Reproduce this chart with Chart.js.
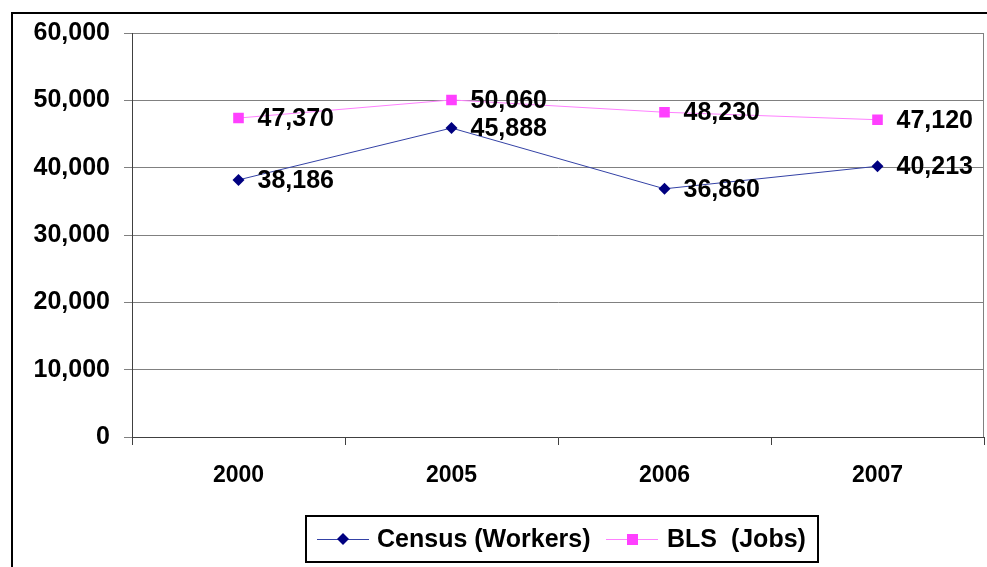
<!DOCTYPE html>
<html lang="en">
<head>
  <meta charset="UTF-8">
  <title>Census Workers vs BLS Jobs</title>
  <script src="https://cdn.jsdelivr.net/npm/chart.js"></script>
  <style>
    body {
      margin: 0;
      background: #fff;
      overflow: hidden;
    }
    .wrap {
      width: 987px;
      height: 567px;
    }
  </style>
</head>
<body>
  <div class="wrap">
    <canvas id="jobsChart" width="987" height="567"></canvas>
  </div>

  <script>
    const categories = ['2000', '2005', '2006', '2007'];
    const censusWorkers = [38186, 45888, 36860, 40213];
    const blsJobs = [47370, 50060, 48230, 47120];
    const yMin = 0;
    const yMax = 60000;
    const yStep = 10000;

    const FONT = "'Liberation Sans', Arial, sans-serif";
    const fmt = v => v.toLocaleString('en-US');

    // outer frame, right plot border, value labels and boxed legend
    const decorations = {
      id: 'decorations',
      beforeDraw(chart) {
        const ctx = chart.ctx;
        ctx.save();
        ctx.fillStyle = '#fff';
        ctx.fillRect(0, 0, chart.width, chart.height);
        ctx.strokeStyle = '#000';
        ctx.lineWidth = 2;
        ctx.strokeRect(12, 13, 2000, 2000);
        ctx.restore();
      },
      beforeDatasetsDraw(chart) {
        const { ctx, chartArea } = chart;
        ctx.save();
        ctx.strokeStyle = '#808080';
        ctx.lineWidth = 1;
        ctx.beginPath();
        ctx.moveTo(chartArea.right - 0.5, chartArea.top);
        ctx.lineTo(chartArea.right - 0.5, chartArea.bottom);
        ctx.stroke();
        ctx.restore();
      },
      afterDatasetsDraw(chart) {
        const ctx = chart.ctx;
        ctx.save();
        ctx.font = 'bold 25px ' + FONT;
        ctx.fillStyle = '#000';
        ctx.textAlign = 'left';
        ctx.textBaseline = 'middle';
        chart.data.datasets.forEach((ds, i) => {
          chart.getDatasetMeta(i).data.forEach((pt, j) => {
            ctx.fillText(fmt(ds.data[j]), pt.x + 19, pt.y + 1);
          });
        });
        ctx.restore();
      },
      afterDraw(chart) {
        const ctx = chart.ctx;
        const box = { x: 306, y: 516, w: 512, h: 46 };
        ctx.save();
        ctx.fillStyle = '#fff';
        ctx.fillRect(box.x, box.y, box.w, box.h);
        ctx.strokeStyle = '#000';
        ctx.lineWidth = 2;
        ctx.strokeRect(box.x, box.y, box.w, box.h);

        const cy = box.y + box.h / 2;
        const items = [
          { x: 317, textX: 377 },
          { x: 606, textX: 667 }
        ];
        ctx.font = 'bold 25px ' + FONT;
        ctx.textBaseline = 'middle';
        chart.data.datasets.forEach((ds, i) => {
          const it = items[i];
          ctx.strokeStyle = ds.borderColor;
          ctx.lineWidth = 1;
          ctx.beginPath();
          ctx.moveTo(it.x, cy + 0.5);
          ctx.lineTo(it.x + 52, cy + 0.5);
          ctx.stroke();
          ctx.fillStyle = ds.pointBackgroundColor;
          const mx = it.x + 26;
          if (ds.pointStyle === 'rectRot') {
            ctx.beginPath();
            ctx.moveTo(mx, cy - 6);
            ctx.lineTo(mx + 6, cy);
            ctx.lineTo(mx, cy + 6);
            ctx.lineTo(mx - 6, cy);
            ctx.closePath();
            ctx.fill();
          } else {
            ctx.fillRect(mx - 5, cy - 5, 11, 11);
          }
          ctx.fillStyle = '#000';
          ctx.fillText(ds.label, it.textX, cy + 1);
        });
        ctx.restore();
      }
    };

    new Chart(document.getElementById('jobsChart'), {
      type: 'line',
      data: {
        labels: categories,
        datasets: [
          {
            label: 'Census (Workers)',
            data: censusWorkers,
            borderColor: '#3442a6',
            borderWidth: 1,
            pointStyle: 'rectRot',
            pointRadius: 6,
            pointBackgroundColor: '#000080',
            pointBorderColor: '#000080',
            pointBorderWidth: 0,
            tension: 0
          },
          {
            label: 'BLS  (Jobs)',
            data: blsJobs,
            borderColor: '#ff80ff',
            borderWidth: 1,
            pointStyle: 'rect',
            pointRadius: 7.5,
            pointBackgroundColor: '#ff40ff',
            pointBorderColor: '#ff40ff',
            pointBorderWidth: 0,
            tension: 0
          }
        ]
      },
      options: {
        responsive: false,
        animation: false,
        layout: {
          autoPadding: false,
          padding: { left: 0, top: 33, right: 3, bottom: 0 }
        },
        plugins: {
          legend: { display: false },
          tooltip: { enabled: false }
        },
        scales: {
          x: {
            offset: true,
            grid: {
              offset: true,
              drawOnChartArea: false,
              drawTicks: true,
              tickLength: 8,
              color: '#404040'
            },
            border: { color: '#404040', width: 1 },
            ticks: {
              color: '#000',
              padding: 17,
              font: { family: FONT, size: 23, weight: 'bold' }
            },
            afterFit: s => { s.height = 130; }
          },
          y: {
            min: yMin,
            max: yMax,
            grid: {
              color: '#808080',
              tickLength: 8
            },
            border: { color: '#404040', width: 1 },
            ticks: {
              stepSize: yStep,
              color: '#000',
              padding: 14,
              font: { family: FONT, size: 25, weight: 'bold' },
              callback: v => fmt(v)
            },
            afterFit: s => { s.width = 132; }
          }
        }
      },
      plugins: [decorations]
    });
  </script>
</body>
</html>
